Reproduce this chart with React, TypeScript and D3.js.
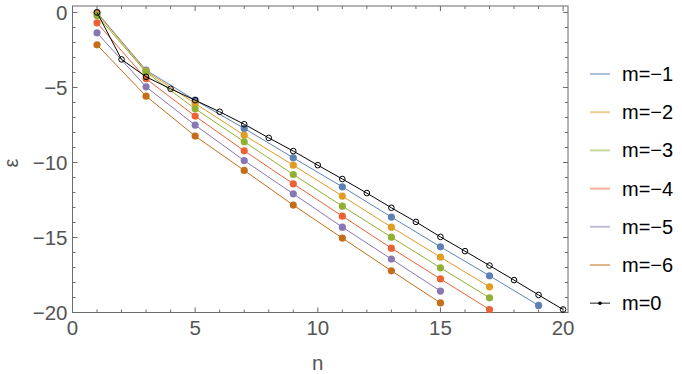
import React from 'react'
import * as d3 from 'd3'

// odd n for the m<0 series, 1..20 for m=0
const oddN = [1, 3, 5, 7, 9, 11, 13, 15, 17, 19]
const allN = d3.range(1, 21)

const m1 = [0, -3.85, -5.85, -7.73, -9.69, -11.62, -13.64, -15.62, -17.55, -19.53]
const m2 = [-0.05, -3.91, -6.07, -8.18, -10.18, -12.24, -14.31, -16.31, -18.29]
const m3 = [-0.2, -3.98, -6.42, -8.62, -10.8, -12.91, -14.98, -17.02, -19.02]
const m4 = [-0.69, -4.42, -6.91, -9.22, -11.42, -13.58, -15.71, -17.76, -19.8]
const m5 = [-1.36, -4.96, -7.51, -9.87, -12.09, -14.31, -16.44, -18.57]
const m6 = [-2.16, -5.58, -8.24, -10.53, -12.84, -15.04, -17.22, -19.36]
const m0 = [0, -3.13, -4.29, -5.09, -5.85, -6.62, -7.45, -8.36, -9.24, -10.18,
  -11.1, -12.04, -13.02, -13.96, -14.96, -15.91, -16.87, -17.84, -18.83, -19.8]

const series = [
  { name: 'm=−1', color: '#5E81B5', values: m1 },
  { name: 'm=−2', color: '#E19C24', values: m2 },
  { name: 'm=−3', color: '#8FB032', values: m3 },
  { name: 'm=−4', color: '#EB6235', values: m4 },
  { name: 'm=−5', color: '#8778B3', values: m5 },
  { name: 'm=−6', color: '#C56E1A', values: m6 },
]

const xLabels = [0, 5, 10, 15, 20]
const yLabels = [0, -5, -10, -15, -20]

const W = 682
const H = 374
const left = 72.5
const right = 568
const top = 6
const bottom = 312.5
const font = '"Liberation Sans", Arial, sans-serif'
const axisColor = '#6b6b6b'
const labelColor = '#555'

const fmt = (v: number) => (v < 0 ? '−' + Math.abs(v) : String(v))

export default function App() {
  const x = d3.scaleLinear().domain([0, 20.2]).range([left, right])
  const y = d3.scaleLinear().domain([-20, 0.43]).range([bottom, top])
  const line = d3.line<[number, number]>().x(d => x(d[0])).y(d => y(d[1]))

  const xMinor = d3.range(0, 21)
  const yMinor = d3.range(-20, 1)

  return (
    <svg width={W} height={H} style={{ position: 'absolute', left: 0, top: 0, background: '#fff' }}
      fontFamily={font}>
      {/* frame */}
      <rect x={left} y={top} width={right - left} height={bottom - top} fill="none" stroke={axisColor} strokeWidth={1} />
      {xMinor.map(n => {
        const len = n % 5 === 0 ? 5 : 3
        return (
          <g key={'xt' + n} stroke={axisColor}>
            <line x1={x(n)} x2={x(n)} y1={bottom} y2={bottom - len} />
            <line x1={x(n)} x2={x(n)} y1={top} y2={top + len} />
          </g>
        )
      })}
      {yMinor.map(v => {
        const len = v % 5 === 0 ? 5 : 3
        return (
          <g key={'yt' + v} stroke={axisColor}>
            <line x1={left} x2={left + len} y1={y(v)} y2={y(v)} />
            <line x1={right} x2={right - len} y1={y(v)} y2={y(v)} />
          </g>
        )
      })}
      {xLabels.map(n => (
        <text key={'xl' + n} x={x(n)} y={bottom + 22.5} textAnchor="middle" fontSize={20.5} fill={labelColor}>{n}</text>
      ))}
      {yLabels.map(v => (
        <text key={'yl' + v} x={left - 5} y={y(v) + 7.5} textAnchor="end" fontSize={20.5} fill={labelColor}>{fmt(v)}</text>
      ))}
      <text x={x(10)} y={bottom + 57} textAnchor="middle" fontSize={20.5} fill={labelColor}>n</text>
      <text transform={`translate(${18},${163}) rotate(-90)`} textAnchor="middle" fontSize={20} fill={labelColor}>ε</text>

      {/* m<0 series */}
      {series.map(s => {
        const pts = s.values.map((v, i) => [oddN[i], v] as [number, number])
        return (
          <g key={s.name}>
            <path d={line(pts) || ''} fill="none" stroke={s.color} strokeWidth={1} />
            {pts.map((p, i) => (
              <circle key={i} cx={x(p[0])} cy={y(p[1])} r={3.6} fill={s.color} />
            ))}
          </g>
        )
      })}

      {/* m=0 */}
      {(() => {
        const pts = m0.map((v, i) => [allN[i], v] as [number, number])
        return (
          <g>
            <path d={line(pts) || ''} fill="none" stroke="#000" strokeWidth={1} />
            {pts.map((p, i) => (
              <circle key={i} cx={x(p[0])} cy={y(p[1])} r={2.8} fill="none" stroke="#000" strokeWidth={1} />
            ))}
          </g>
        )
      })()}

      {/* legend */}
      {series.map((s, i) => {
        const ly = 74 + i * 38.2
        return (
          <g key={'lg' + s.name}>
            <line x1={590} x2={610} y1={ly} y2={ly} stroke={s.color} strokeWidth={2} opacity={0.5} />
            <text x={622} y={ly + 7} fontSize={20} fill="#000">{s.name}</text>
          </g>
        )
      })}
      <g>
        <line x1={590} x2={610} y1={74 + 6 * 38.2} y2={74 + 6 * 38.2} stroke="#000" strokeWidth={1.5} opacity={0.6} />
        <circle cx={600} cy={74 + 6 * 38.2} r={1.8} fill="#000" />
        <text x={622} y={74 + 6 * 38.2 + 7} fontSize={20} fill="#000">m=0</text>
      </g>
    </svg>
  )
}
